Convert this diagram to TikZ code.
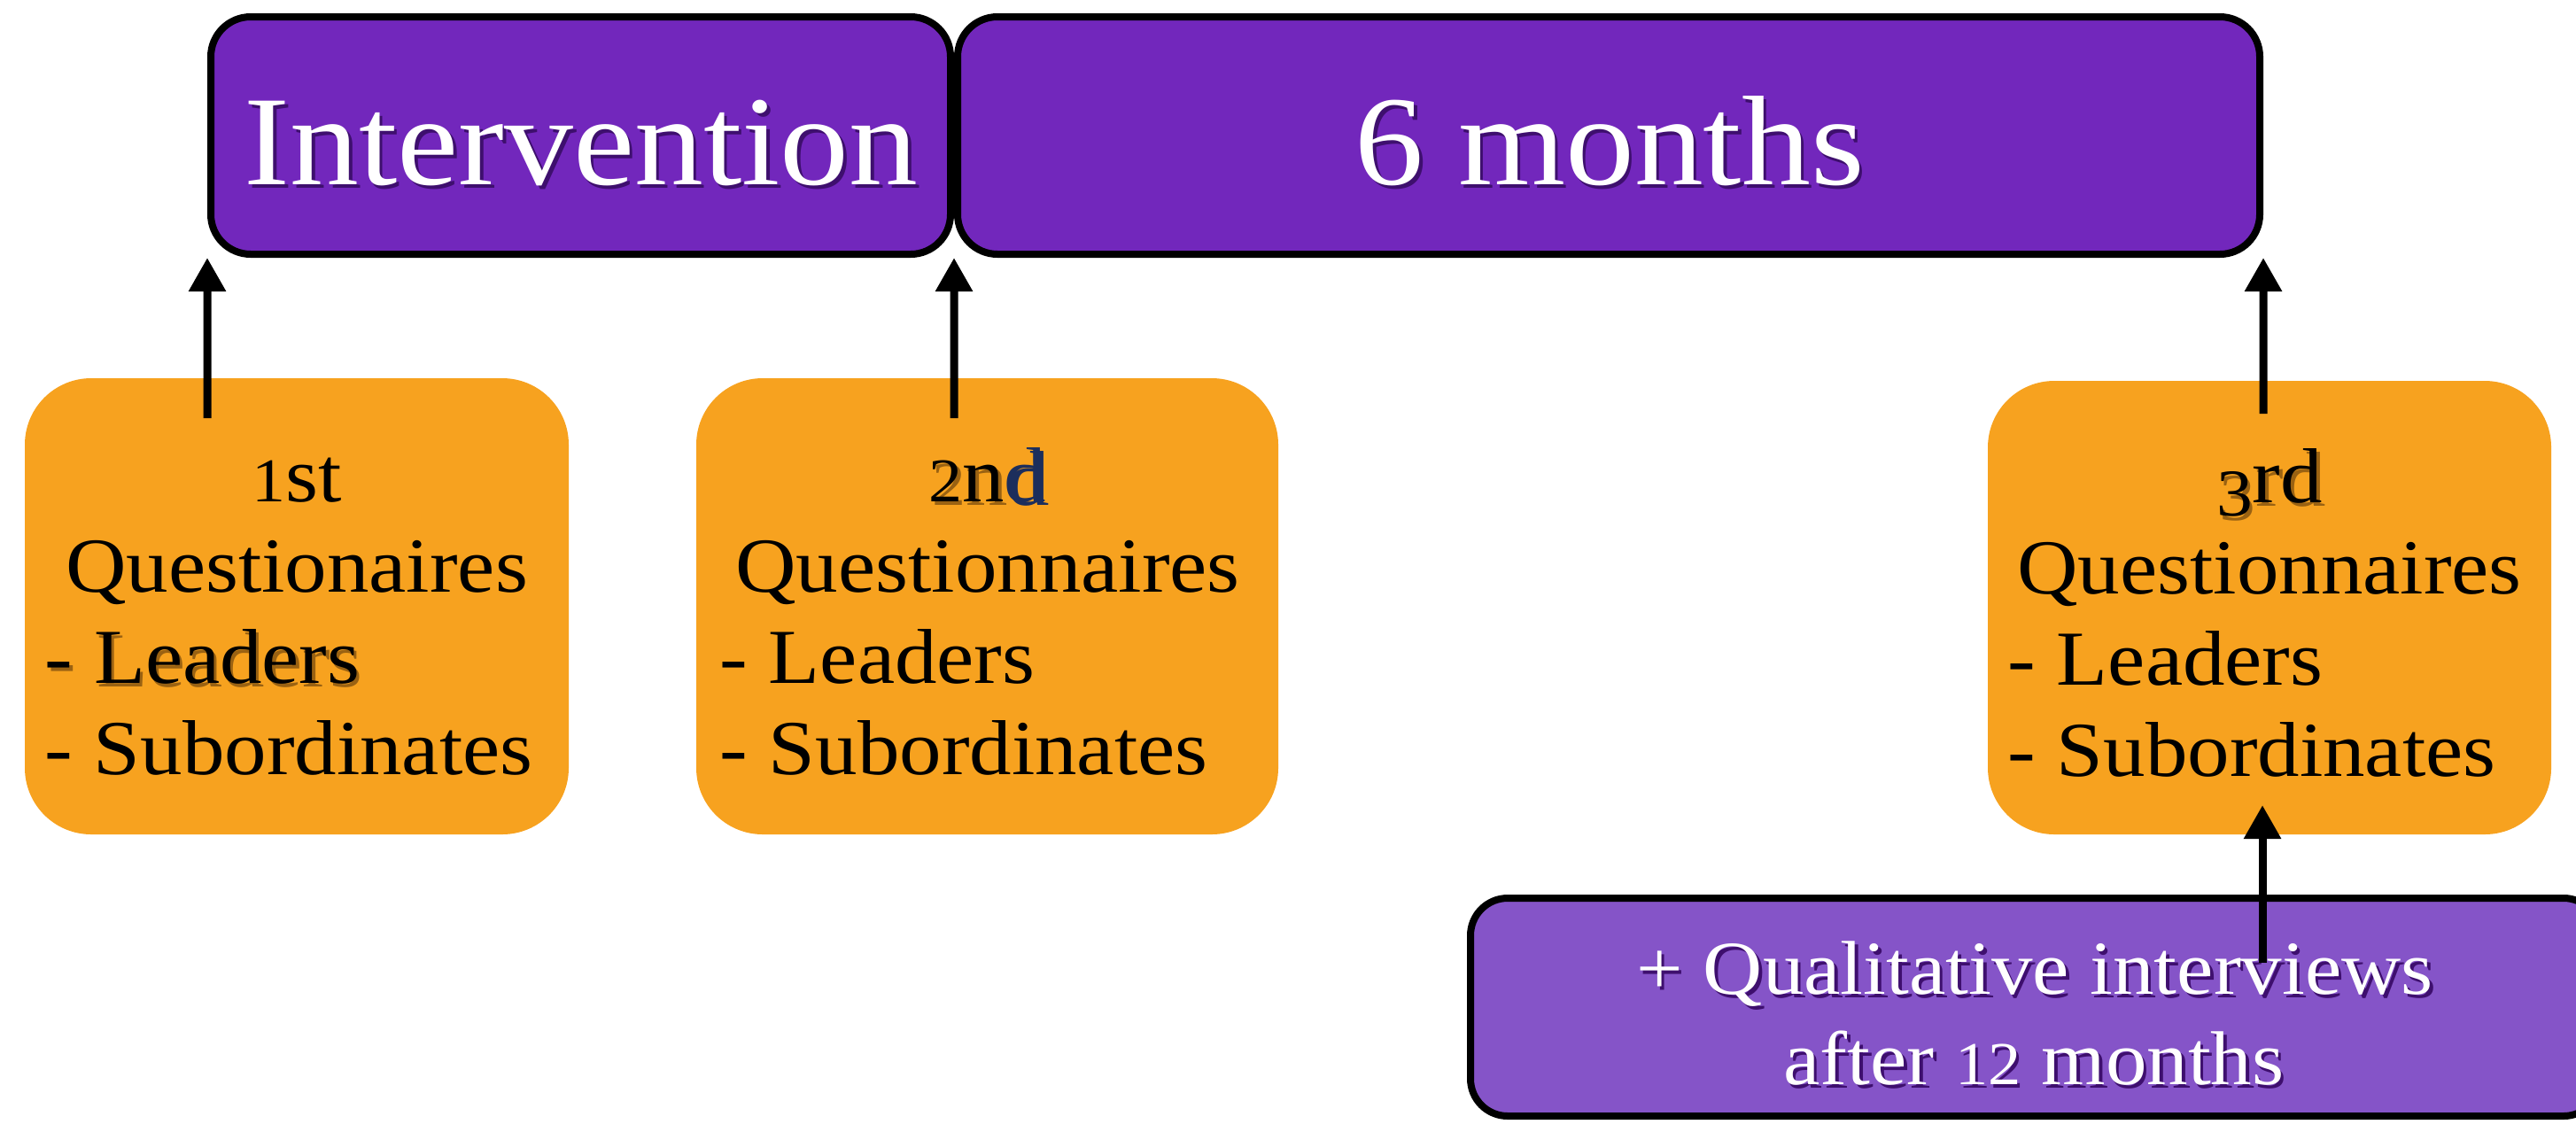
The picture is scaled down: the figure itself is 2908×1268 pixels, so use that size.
\documentclass[tikz,border=0pt]{standalone}
\usepackage{fontspec}
\usepackage{graphicx}
\setmainfont{Liberation Serif}[FakeStretch=1.08]
\usetikzlibrary{arrows.meta}

\definecolor{phase}{HTML}{7227BC}
\definecolor{later}{HTML}{8554C8}
\definecolor{survey}{HTML}{F7A21F}
\definecolor{purpleshade}{HTML}{3E0F6E}
\definecolor{orangeshade}{HTML}{9A6212}
\definecolor{navyd}{HTML}{1C2E5C}

% old-style looking figures: small ones sit on the baseline, the 3 drops below it
\newcommand\osn[1]{\scalebox{0.8}{#1}}
\newcommand\osnlow[1]{\raisebox{-0.18em}{\scalebox{0.86}{#1}}}
% text with a soft offset shadow behind it
\newcommand\shd[2]{\makebox[0pt][l]{\textcolor{#1}{\raisebox{-.45mm}{\hspace{.35mm}#2}}}#2}

\begin{document}
\begin{tikzpicture}[x=0.1mm,y=-0.1mm,
  phasebox/.style={draw=black, line width=0.8mm, fill=phase, rounded corners=4.5mm,
    inner sep=0pt, minimum height=26.8mm},
  laterbox/.style={draw=black, line width=0.8mm, fill=later, rounded corners=4.2mm,
    inner sep=0pt},
  surveybox/.style={fill=survey, rounded corners=7.5mm, inner sep=0pt},
  bigtxt/.style={text=white, inner sep=0pt, anchor=base, font=\fontsize{41}{49}\selectfont},
  ctr/.style={inner sep=0pt, anchor=base, font=\fontsize{25}{29}\selectfont},
  lft/.style={inner sep=0pt, anchor=base west, font=\fontsize{25}{29}\selectfont},
  wtxt/.style={text=white, inner sep=0pt, anchor=base, font=\fontsize{24.5}{29}\selectfont},
  arr/.style={line width=0.9mm, -{Triangle[length=3.8mm,width=4mm]}}
]
\clip (0,0) rectangle (2908,1268);

% timeline bars
\node[phasebox, minimum width=83.5mm] (int) at (655.5,153) {};
\node[phasebox, minimum width=147mm] (six) at (1816,153) {};
\node[bigtxt] (inttxt) at (656,208) {\shd{purpleshade}{Intervention}};
\node[bigtxt] (sixtxt) at (1817,208) {\shd{purpleshade}{6 months}};

% questionnaire boxes
\node[surveybox, minimum width=61.4mm, minimum height=51.5mm] (q1) at (335,684.5) {};
\node[surveybox, minimum width=65.7mm, minimum height=51.5mm] (q2) at (1114.5,684.5) {};
\node[surveybox, minimum width=63.6mm, minimum height=51.2mm] (q3) at (2562,686) {};

\node[ctr] (q1a) at (335,566) {\osn{1}st};
\node[ctr] (q1b) at (335,668) {Questionaires};
\node[lft] (q1c) at (50,771) {\shd{orangeshade}{- Leaders}};
\node[lft] (q1d) at (50,874) {- Subordinates};

\node[ctr] (q2a) at (1115,566) {\shd{orangeshade}{\osn{2}n\textcolor{navyd}{d}}};
\node[ctr] (q2b) at (1115,668) {Questionnaires};
\node[lft] (q2c) at (812,771) {- Leaders};
\node[lft] (q2d) at (812,874) {- Subordinates};

\node[ctr] (q3a) at (2562,567) {\shd{orangeshade}{\osnlow{3}rd}};
\node[ctr] (q3b) at (2562,670) {Questionnaires};
\node[lft] (q3c) at (2266,773) {- Leaders};
\node[lft] (q3d) at (2266,876) {- Subordinates};

% follow-up interviews
\node[laterbox, minimum width=127.6mm, minimum height=24.6mm] (qual) at (2298,1137) {};
\node[wtxt] (quala) at (2297,1122) {\shd{purpleshade}{+ Qualitative interviews}};
\node[wtxt] (qualb) at (2296,1224) {\shd{purpleshade}{after \osn{12} months}};

% measurement arrows
\coordinate (s1) at (234,472);
\coordinate (s2) at (1077,472);
\coordinate (s3) at (2555,467);
\coordinate (s4) at (2554,1087);
\coordinate (t4) at (2554,909);
\draw[arr] (s1) -- (int.south west);
\draw[arr] (s2) -- (int.south east);
\draw[arr] (s3) -- (six.south east);
\draw[arr] (s4) -- (t4);
\end{tikzpicture}
\end{document}
